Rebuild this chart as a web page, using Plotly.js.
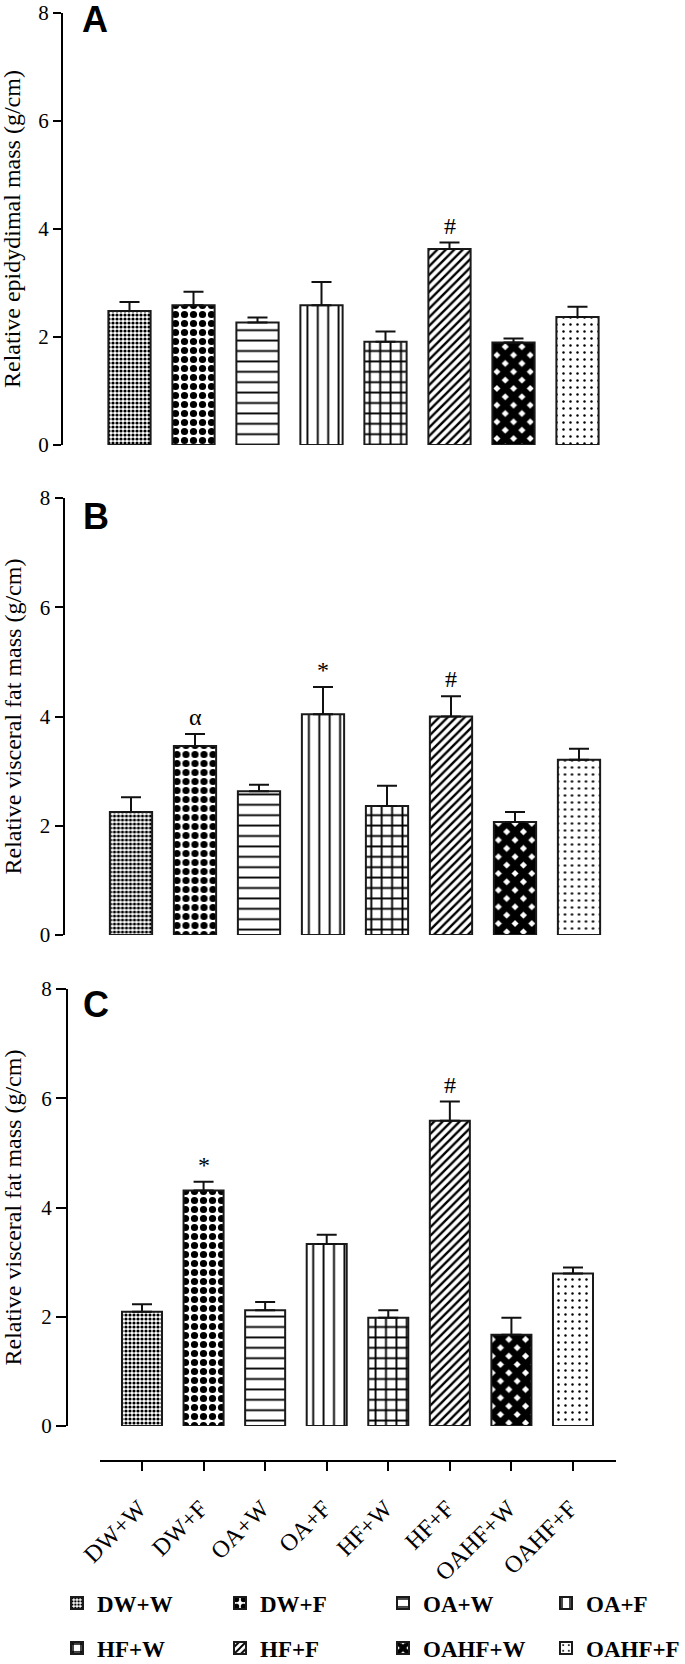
<!DOCTYPE html>
<html><head><meta charset="utf-8">
<script src="https://cdn.plot.ly/plotly-3.0.1.min.js"></script>
<style>html,body{margin:0;padding:0;background:#fff}#chart{width:685px;height:1664px}</style>
</head><body><div id="chart"></div>
<script>
// ---------- data ----------
const categories = ['DW+W','DW+F','OA+W','OA+F','HF+W','HF+F','OAHF+W','OAHF+F'];
const epididymalMass = [2.48, 2.59, 2.27, 2.59, 1.91, 3.63, 1.90, 2.37];
const epididymalSem  = [0.17, 0.25, 0.09, 0.43, 0.19, 0.12, 0.07, 0.19];
const visceralMassB  = [2.25, 3.46, 2.63, 4.04, 2.36, 4.00, 2.07, 3.21];
const visceralSemB   = [0.27, 0.22, 0.12, 0.50, 0.37, 0.37, 0.18, 0.20];
const visceralMassC  = [2.09, 4.31, 2.12, 3.33, 1.98, 5.59, 1.67, 2.79];
const visceralSemC   = [0.14, 0.16, 0.15, 0.17, 0.14, 0.35, 0.31, 0.11];
const sigA = ['', '', '', '', '', '#', '', ''];
const sigB = ['', 'α', '', '*', '', '#', '', ''];
const sigC = ['', '*', '', '', '', '#', '', ''];
const panelLetters = ['A', 'B', 'C'];
const yTitles = ['Relative epidydimal mass (g/cm)', 'Relative visceral fat mass (g/cm)', 'Relative visceral fat mass (g/cm)'];
const yTickVals = [0, 2, 4, 6, 8];

// ---------- styles ----------
const patterns = [
  {shape: '.', size: 4,    solidity: 0.5},
  {shape: '.', size: 9,    solidity: 0.5},
  {shape: '-', size: 10.4, solidity: 0.18},
  {shape: '|', size: 10.4, solidity: 0.18},
  {shape: '+', size: 10.4, solidity: 0.33},
  {shape: '/', size: 6,    solidity: 0.4},
  {shape: 'x', size: 11.8, solidity: 0.82},
  {shape: '.', size: 7,    solidity: 0.1}
];
const W = 685, H = 1664;
const px = p => p / W;
const py = p => 1 - p / H;
const SERIF = 'Liberation Serif, Times New Roman, serif';
const SANS = 'Liberation Sans, Arial, sans-serif';

const geom = [
  {axisX: 63,   xStart: 63,   xEnd: 640, c0: 129.5, pitch: 64,    top: 13,  bottom: 445,  bw: 0.66, ticklen: 8,  letterX: 80, letterY: 20},
  {axisX: 64.5, xStart: 64.5, xEnd: 640, c0: 131,   pitch: 64,    top: 498, bottom: 935,  bw: 0.66, ticklen: 8,  letterX: 81, letterY: 516},
  {axisX: 67,   xStart: 100,  xEnd: 616, c0: 142,   pitch: 61.57, top: 989, bottom: 1426, bw: 0.65, ticklen: 10, letterX: 81, letterY: 1004, xLineY: 1461}
];
const panelData = [
  {vals: epididymalMass, sem: epididymalSem, sig: sigA},
  {vals: visceralMassB,  sem: visceralSemB,  sig: sigB},
  {vals: visceralMassC,  sem: visceralSemC,  sig: sigC}
];

const traces = [];
const annotations = [];
const layout = {
  width: W, height: H,
  margin: {l: 0, r: 0, t: 0, b: 0, autoexpand: false},
  paper_bgcolor: 'white', plot_bgcolor: 'rgba(0,0,0,0)',
  barmode: 'overlay',
  showlegend: true,
  font: {family: SERIF, color: 'black'},
  annotations: annotations
};

panelData.forEach((p, pi) => {
  const g = geom[pi];
  const sfx = pi === 0 ? '' : String(pi + 1);
  const xa = 'x' + sfx, ya = 'y' + sfx;
  categories.forEach((cat, ci) => {
    traces.push({
      type: 'bar', x: [cat], y: [p.vals[ci]], name: cat,
      xaxis: xa, yaxis: ya, width: g.bw,
      marker: {
        color: 'white',
        line: {color: '#1a1a1a', width: 2},
        pattern: Object.assign({}, patterns[ci], {fgcolor: 'black', bgcolor: 'white', fillmode: 'replace'})
      },
      error_y: {type: 'data', symmetric: false, array: [p.sem[ci]], arrayminus: [0],
                color: '#111', thickness: 2, width: 10},
      showlegend: pi === 0,
      legend: ci < 4 ? 'legend' : 'legend2',
      legendgroup: cat,
      hoverinfo: 'skip'
    });
    if (p.sig[ci]) {
      annotations.push({
        xref: xa, yref: ya, x: cat, y: p.vals[ci] + p.sem[ci],
        text: p.sig[ci], showarrow: false, yanchor: 'bottom', yshift: 2,
        font: {family: SERIF, size: 24, color: 'black'}
      });
    }
  });
  const lo = -(g.c0 - g.xStart) / g.pitch;
  const hi = (g.xEnd - g.c0) / g.pitch;
  const xaxis = {
    type: 'category', categoryorder: 'array', categoryarray: categories,
    domain: [px(g.xStart), px(g.xEnd)], range: [lo, hi], autorange: false,
    anchor: ya, showgrid: false, zeroline: false, fixedrange: true
  };
  const yaxis = {
    domain: [py(g.bottom), py(g.top)], range: [0, 8], autorange: false,
    tickvals: yTickVals, ticks: 'outside', ticklen: g.ticklen, tickwidth: 2, tickcolor: 'black',
    showline: true, linewidth: 2, linecolor: 'black', showgrid: false, zeroline: false,
    ticklabeloverflow: 'allow',
    tickfont: {family: SERIF, size: 21, color: 'black'}, anchor: xa, fixedrange: true
  };
  if (pi < 2) {
    Object.assign(xaxis, {showline: false, ticks: '', showticklabels: false});
  } else {
    Object.assign(xaxis, {
      anchor: 'free', position: py(g.xLineY), showline: true, linewidth: 2, linecolor: 'black',
      ticks: 'outside', ticklen: 9, tickwidth: 2, tickcolor: 'black', tickangle: -45,
      ticklabelstandoff: 14, ticklabelshift: -3,
      tickfont: {family: SERIF, size: 24, color: 'black'}
    });
    Object.assign(yaxis, {anchor: 'free', position: px(g.axisX)});
  }
  layout['xaxis' + sfx] = xaxis;
  layout['yaxis' + sfx] = yaxis;
  annotations.push({
    xref: 'paper', yref: 'paper', x: px(12), y: py((g.top + g.bottom) / 2),
    text: yTitles[pi], textangle: -90, showarrow: false, xanchor: 'center', yanchor: 'middle',
    font: {family: SERIF, size: 24, color: 'black'}
  });
  annotations.push({
    xref: 'paper', yref: 'paper', x: px(g.letterX), y: py(g.letterY),
    text: panelLetters[pi], showarrow: false, xanchor: 'left', yanchor: 'middle',
    font: {family: SANS, size: 36, weight: 700, color: 'black'}
  });
});

const legendBase = {
  orientation: 'h', xanchor: 'left', yanchor: 'middle', x: px(57),
  entrywidth: 118, entrywidthmode: 'pixels', itemwidth: 30,
  bgcolor: 'rgba(0,0,0,0)', traceorder: 'normal',
  font: {family: SERIF, size: 23, weight: 700, color: 'black'}
};
layout.legend = Object.assign({}, legendBase, {y: py(1603)});
layout.legend2 = Object.assign({}, legendBase, {y: py(1648)});

Plotly.newPlot('chart', traces, layout, {displayModeBar: false, staticPlot: true});
</script></body></html>
